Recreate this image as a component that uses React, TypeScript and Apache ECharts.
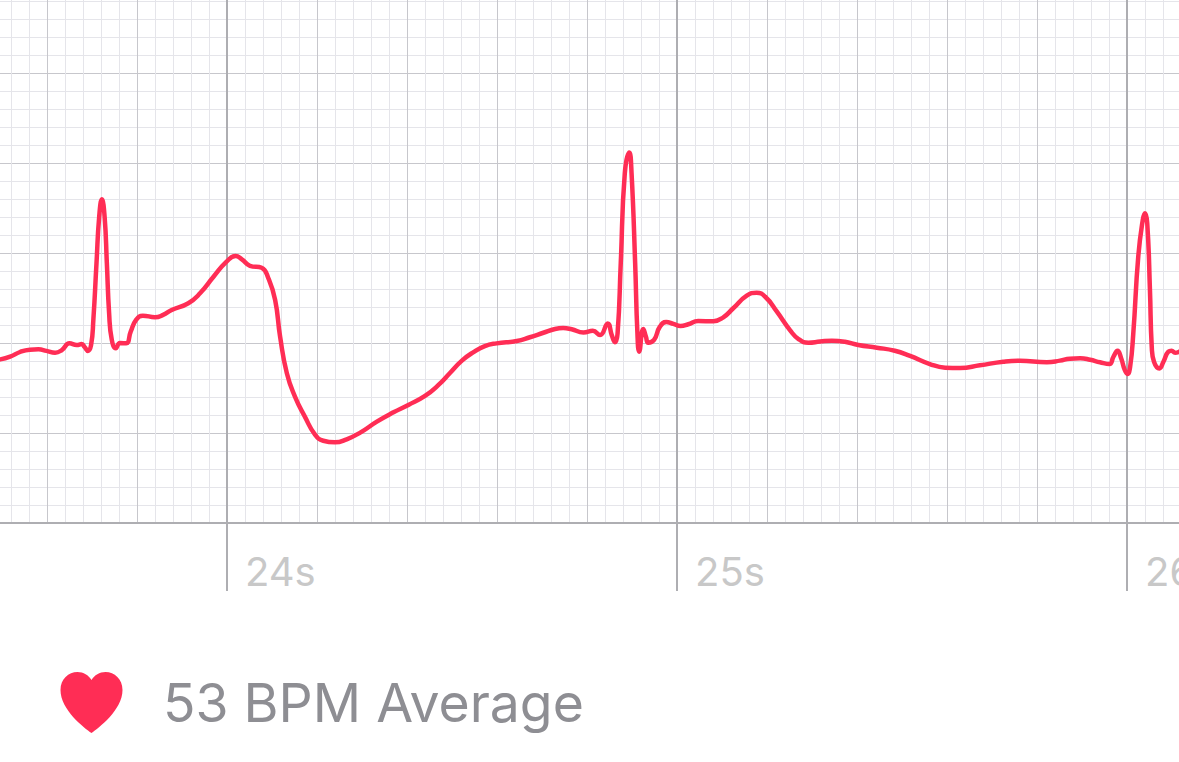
import React, { useEffect, useRef } from "react";
import * as echarts from "echarts";

const times = [
  23.496, 23.518, 23.54, 23.562, 23.581, 23.599, 23.618, 23.633, 23.65, 23.666, 23.677, 23.684, 23.691, 23.698,
  23.703, 23.71, 23.716, 23.722, 23.728, 23.733, 23.738, 23.744, 23.753, 23.762, 23.776, 23.786, 23.798, 23.813,
  23.84, 23.858, 23.877, 23.914, 23.94, 23.97, 23.999, 24.019, 24.033, 24.051, 24.077, 24.092, 24.107, 24.118,
  24.133, 24.151, 24.173, 24.196, 24.214, 24.24, 24.266, 24.296, 24.333, 24.37, 24.403, 24.44, 24.47, 24.496,
  24.522, 24.547, 24.573, 24.599, 24.644, 24.673, 24.703, 24.729, 24.747, 24.766, 24.792, 24.813, 24.829, 24.846,
  24.855, 24.862, 24.868, 24.875, 24.884, 24.894, 24.899, 24.907, 24.912, 24.916, 24.925, 24.931, 24.936, 24.949,
  24.962, 24.976, 24.992, 25.008, 25.025, 25.047, 25.081, 25.103, 25.125, 25.155, 25.177, 25.196, 25.222, 25.251,
  25.27, 25.292, 25.318, 25.344, 25.373, 25.403, 25.444, 25.484, 25.518, 25.562, 25.596, 25.629, 25.673, 25.725,
  25.762, 25.822, 25.851, 25.873, 25.896, 25.918, 25.94, 25.961, 25.97, 25.979, 25.987, 25.995, 26.001, 26.007,
  26.014, 26.025, 26.035, 26.04, 26.045, 26.051, 26.055, 26.06, 26.072, 26.081, 26.092, 26.099, 26.107, 26.116,
];

const millivolts = [
  -0.091, -0.076, -0.05, -0.037, -0.035, -0.044, -0.054, -0.039, -0.002, -0.011, -0.006, -0.024, -0.044, -0.011,
  0.128, 0.444, 0.702, 0.798, 0.702, 0.444, 0.167, 0.017, -0.029, 0, -0.002, 0.063, 0.128, 0.152,
  0.143, 0.156, 0.183, 0.221, 0.276, 0.368, 0.452, 0.483, 0.465, 0.429, 0.418, 0.359, 0.239, 0.035,
  -0.168, -0.298, -0.409, -0.511, -0.543, -0.552, -0.535, -0.498, -0.437, -0.385, -0.344, -0.294, -0.233, -0.165,
  -0.098, -0.052, -0.017, -0.002, 0.011, 0.032, 0.057, 0.078, 0.083, 0.076, 0.059, 0.068, 0.044, 0.109,
  0.044, 0.004, 0.054, 0.443, 0.943, 1.059, 0.944, 0.444, 0.056, -0.048, 0.078, 0.035, 0.002, 0.017,
  0.091, 0.117, 0.106, 0.094, 0.104, 0.122, 0.121, 0.143, 0.193, 0.263, 0.279, 0.257, 0.174, 0.072,
  0.022, 0.002, 0.008, 0.013, 0.007, -0.011, -0.026, -0.043, -0.072, -0.117, -0.137, -0.139, -0.124, -0.104,
  -0.098, -0.107, -0.098, -0.087, -0.085, -0.093, -0.107, -0.117, -0.076, -0.043, -0.085, -0.15, -0.172, -0.132,
  0.054, 0.479, 0.683, 0.721, 0.665, 0.294, -0.021, -0.104, -0.141, -0.104, -0.048, -0.043, -0.054, -0.048,
];

const secondLabels = [24, 25, 26];
const summaryText = "53 BPM Average";

const RED = "#ff2d55";
const MAJOR = "#aeaeb2";
const MEDIUM = "#c7c7cc";
const MINOR = "#e5e5ea";
const LABEL = "#c8c8c8";

const HEART =
  "M31 61 C24 56 0 38 0 18 C0 7 8 0 17 0 C23 0 28 3 31 8 C34 3 39 0 45 0 C54 0 62 7 62 18 C62 38 38 56 31 61 Z";

export default function App() {
  const ref = useRef<HTMLDivElement>(null);

  useEffect(() => {
    if (!ref.current) return;
    echarts.graphic.registerShape("heart", echarts.graphic.extendPath(HEART, {}) as any);

    const chart = echarts.init(ref.current, undefined, { renderer: "svg", width: 1179, height: 762 });

    const xBase = { type: "value", position: "bottom", min: 23, max: 27, axisLabel: { show: false }, axisTick: { show: false }, axisLine: { show: false } };
    const yBase = { type: "value", position: "left", min: -1, max: 2, axisLabel: { show: false }, axisTick: { show: false }, axisLine: { show: false } };

    chart.setOption({
      animation: false,
      backgroundColor: "#ffffff",
      grid: { left: -223, right: -398, top: -17, bottom: 239, outerBoundsMode: "none", containLabel: false },
      xAxis: [
        { ...xBase, interval: 0.04, splitLine: { show: true, lineStyle: { color: MINOR, width: 1 } } },
        { ...xBase, interval: 0.2, splitLine: { show: true, lineStyle: { color: MEDIUM, width: 1 } } },
        {
          ...xBase,
          interval: 1,
          splitLine: { show: true, lineStyle: { color: MAJOR, width: 2 } },
          axisLine: { show: true, onZero: false, lineStyle: { color: MAJOR, width: 2 } },
          axisTick: { show: true, length: 68, lineStyle: { color: MAJOR, width: 2 } },
          axisLabel: {
            show: true,
            margin: 28,
            align: "left",
            verticalAlign: "top",
            padding: [0, 0, 0, 18],
            color: LABEL,
            fontFamily: "Inter",
            fontSize: 40,
            formatter: (v: number) => (secondLabels.includes(v) ? `${v}s` : ""),
          },
        },
      ],
      yAxis: [
        { ...yBase, interval: 0.1, splitLine: { show: true, lineStyle: { color: MINOR, width: 1 } } },
        { ...yBase, interval: 0.5, splitLine: { show: true, lineStyle: { color: MEDIUM, width: 1 } } },
      ],
      series: [
        {
          type: "line",
          xAxisIndex: 2,
          yAxisIndex: 1,
          z: 5,
          data: times.map((t, i) => [t, millivolts[i]]),
          showSymbol: false,
          smooth: 0.5,
          lineStyle: { color: RED, width: 4.5, cap: "round", join: "round" },
        },
      ],
      graphic: [
        { type: "heart", x: 60.5, y: 672, style: { fill: RED } },
        {
          type: "text",
          x: 163,
          y: 702,
          style: {
            text: summaryText,
            fill: "#8e8e93",
            fontFamily: "Inter",
            fontSize: 53.5,
            fontWeight: 400,
            verticalAlign: "middle",
          },
        },
      ],
    });
    return () => chart.dispose();
  }, []);

  return (
    <div
      ref={ref}
      style={{ position: "fixed", left: 0, top: 0, width: 1179, height: 762, overflow: "hidden", background: "#fff" }}
    />
  );
}
